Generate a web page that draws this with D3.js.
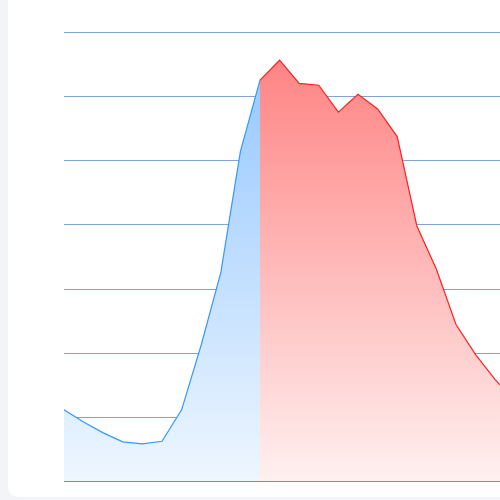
<!DOCTYPE html>
<html><head><meta charset="utf-8">
<script src="https://cdn.jsdelivr.net/npm/d3@7"></script>
<style>body{margin:0;background:#f3f4f8;overflow:hidden}</style>
</head><body><div id="chart"></div>
<script>
const values = [111, 92, 75, 61, 58, 62, 111, 212, 325, 514, 625, 656, 620, 617, 575, 603, 580, 537, 398, 330, 244, 197, 158, 125]
const splitIndex = 10
const gridTicks = [100, 200, 300, 400, 500, 600, 700]

const svg = d3.select("#chart").append("svg").attr("width", 500).attr("height", 500)
svg.append("rect").attr("x", 8).attr("y", -20).attr("width", 520).attr("height", 517).attr("rx", 10).attr("fill", "white")

const x = d3.scaleLinear().domain([0, values.length - 1]).range([64, 64 + 19.6 * (values.length - 1)])
const y = d3.scaleLinear().domain([0, 700]).range([481, 32])

const defs = svg.append("defs")
defs.append("clipPath").attr("id", "clip").append("rect").attr("x", 64).attr("y", 0).attr("width", 436).attr("height", 500)
function grad(id, top, bottom) {
    const g = defs.append("linearGradient").attr("id", id).attr("x1", 0).attr("y1", 0).attr("x2", 0).attr("y2", 1)
        .attr("gradientUnits", "userSpaceOnUse").attr("y1", 32).attr("y2", 481).attr("x1", 0).attr("x2", 0)
    g.append("stop").attr("offset", 0).attr("stop-color", top)
    g.append("stop").attr("offset", 1).attr("stop-color", bottom)
}
grad("gBlue", "#8fc4ff", "#eef6ff")
grad("gRed", "#ff7d7d", "#fff0f0")

svg.append("g").selectAll("line").data(gridTicks).join("line")
    .attr("x1", 64).attr("x2", 500).attr("y1", d => Math.round(y(d)) + 0.5).attr("y2", d => Math.round(y(d)) + 0.5)
    .attr("stroke", "#7ea6cf").attr("stroke-width", 1)

const pts = values.map((v, i) => [i, v])
const blue = pts.slice(0, splitIndex + 1)
const red = pts.slice(splitIndex)
const area = d3.area().x(d => x(d[0])).y0(y(0)).y1(d => y(d[1]))
const line = d3.line().x(d => x(d[0])).y(d => y(d[1]))

const g = svg.append("g").attr("clip-path", "url(#clip)")
g.append("path").datum(blue).attr("d", area).attr("fill", "url(#gBlue)")
g.append("path").datum(red).attr("d", area).attr("fill", "url(#gRed)")
g.append("path").datum(blue).attr("d", line).attr("fill", "none").attr("stroke", "#3399ff").attr("stroke-width", 1.2)
g.append("path").datum(red).attr("d", line).attr("fill", "none").attr("stroke", "#ff2020").attr("stroke-width", 1.2)

svg.append("line").attr("x1", 64).attr("x2", 500).attr("y1", y(0) + 0.5).attr("y2", y(0) + 0.5)
    .attr("stroke", "#4a9bf0").attr("stroke-width", 1)
</script></body></html>
